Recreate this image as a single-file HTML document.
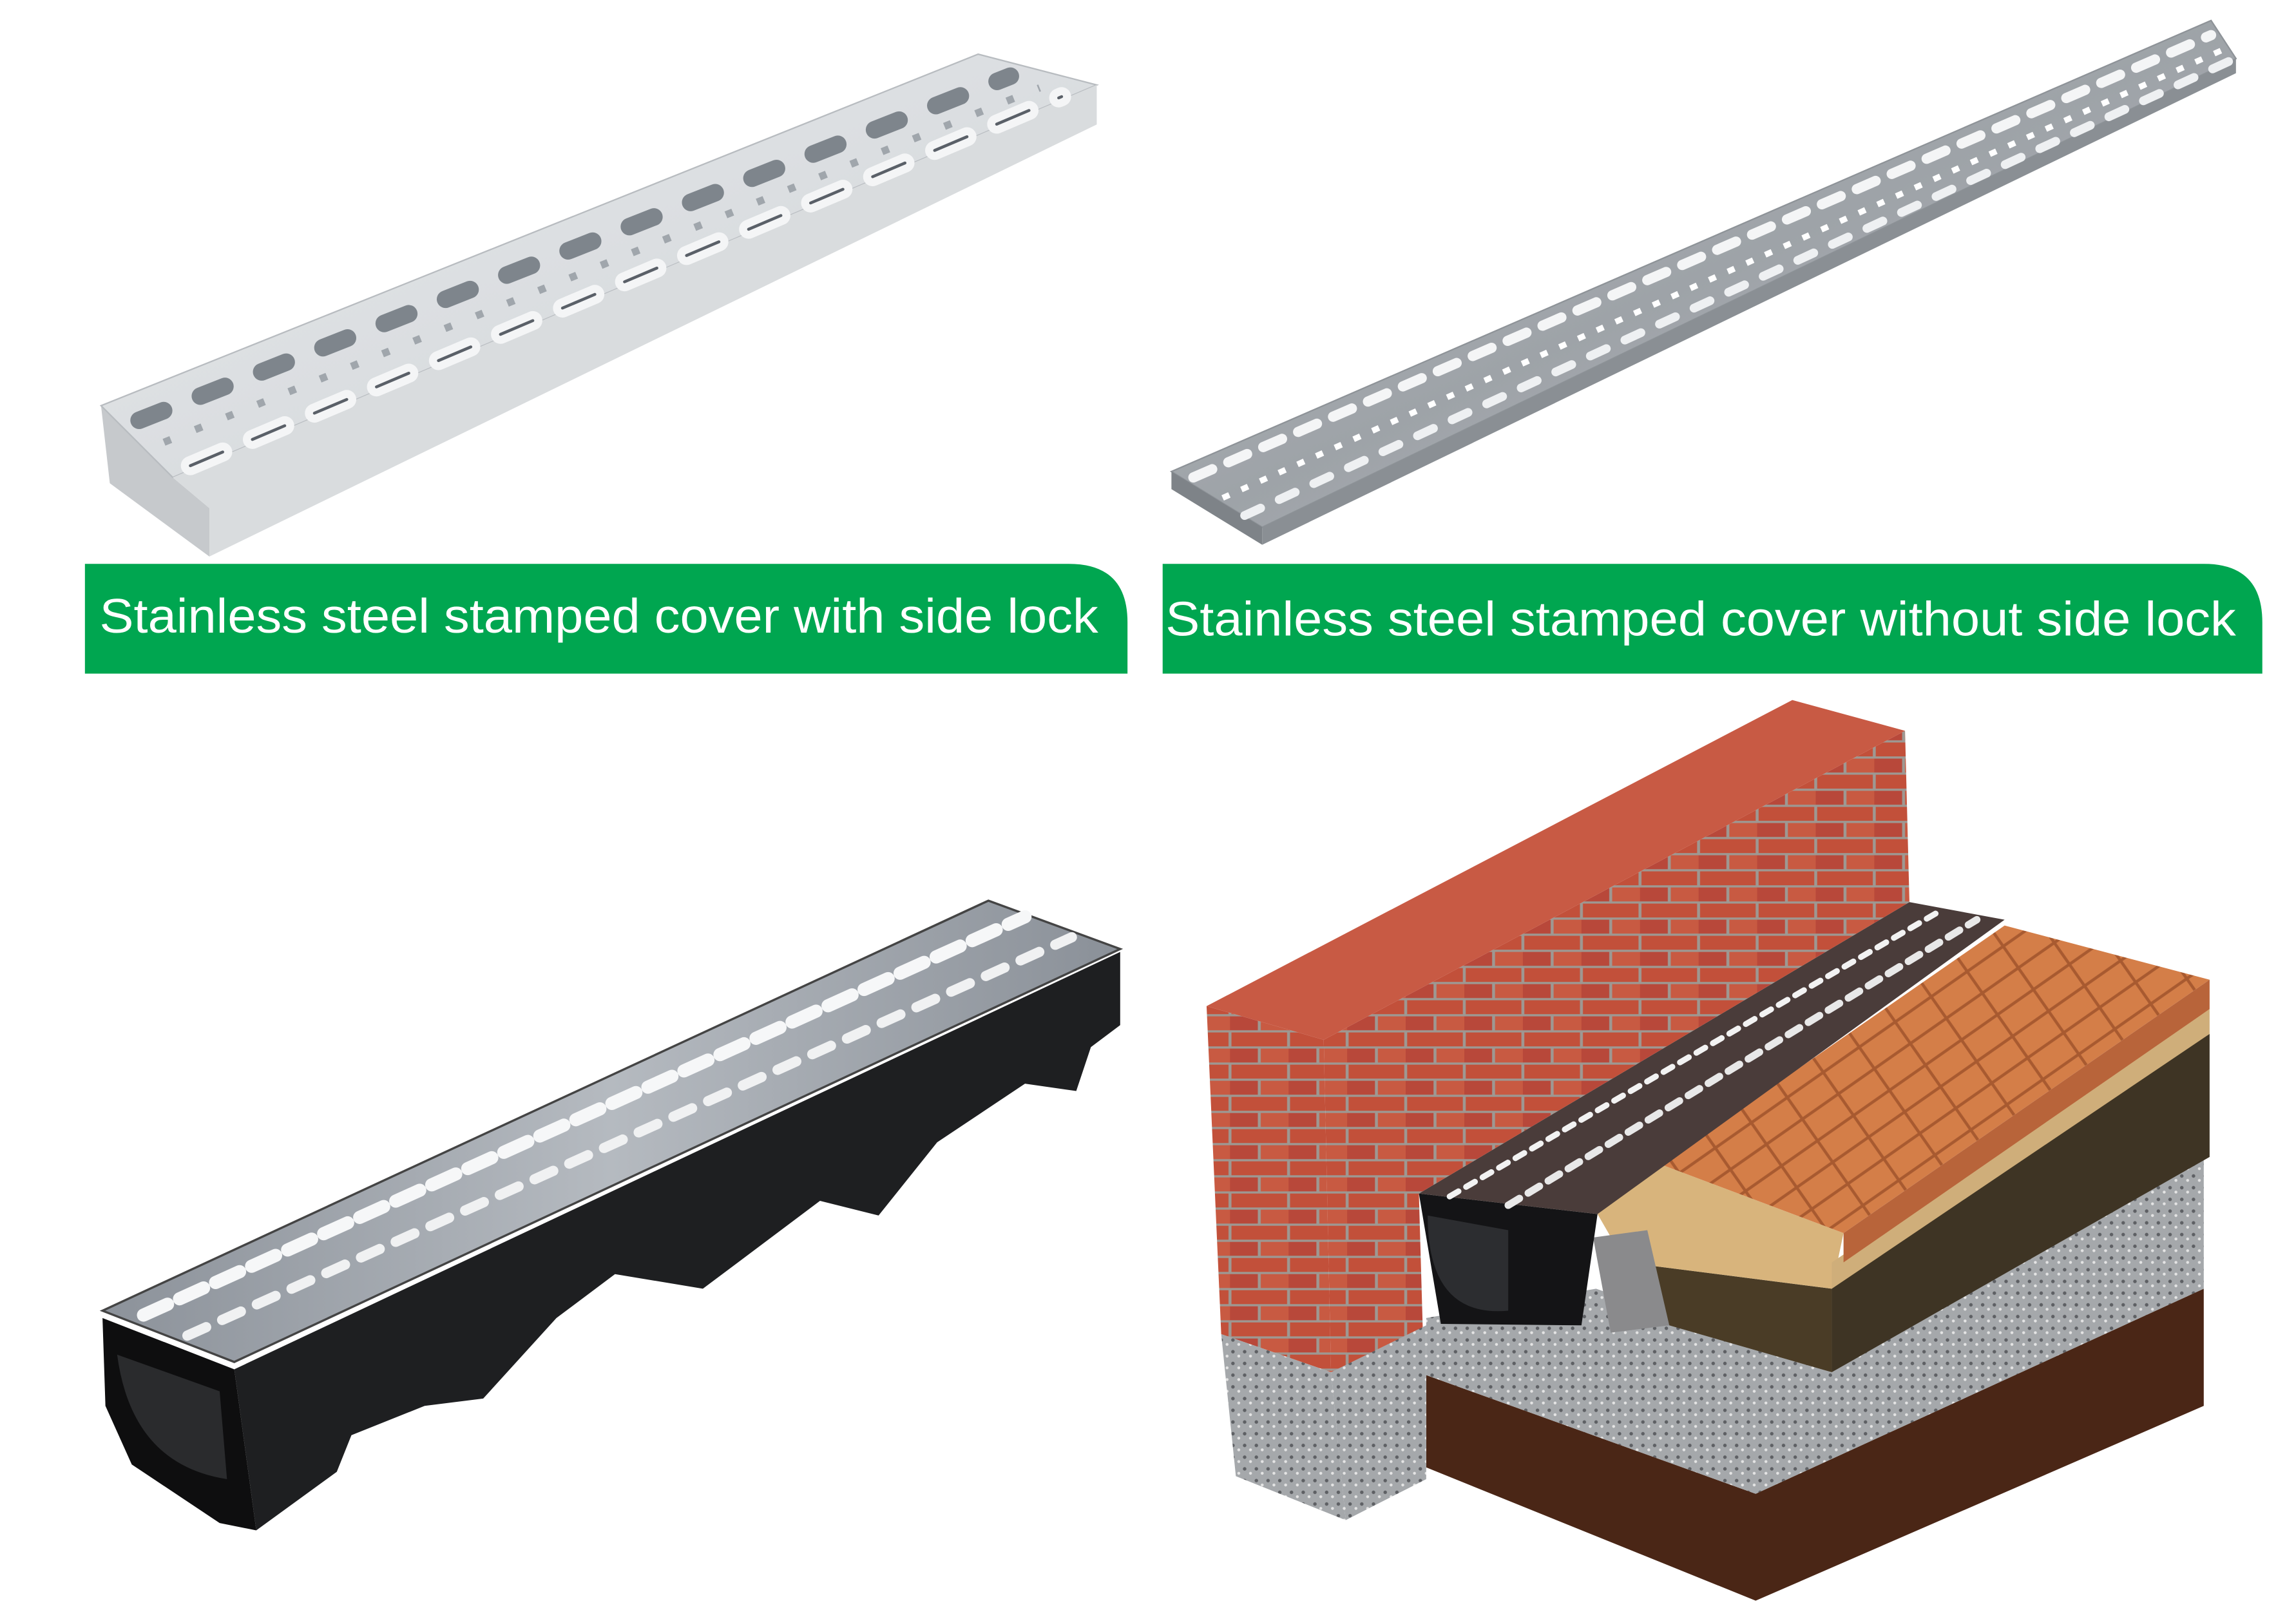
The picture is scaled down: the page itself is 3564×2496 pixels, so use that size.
<!DOCTYPE html>
<html><head><meta charset="utf-8"><style>
html,body{margin:0;padding:0;background:#fff;}
svg{display:block;width:3564px;height:2496px;}
</style></head><body>
<svg viewBox="0 0 1568 1098" preserveAspectRatio="none" xmlns="http://www.w3.org/2000/svg">
<defs>
<linearGradient id="steel" x1="0" y1="0" x2="1" y2="1"><stop offset="0" stop-color="#e6e8ea"/><stop offset="1" stop-color="#d0d4d8"/></linearGradient>
<linearGradient id="steel2" x1="0" y1="0" x2="1" y2="1"><stop offset="0" stop-color="#b8bcc0"/><stop offset="0.5" stop-color="#9ea3a8"/><stop offset="1" stop-color="#b4b8bc"/></linearGradient>
<linearGradient id="steel3" x1="0" y1="0" x2="1" y2="0"><stop offset="0" stop-color="#8c929a"/><stop offset="0.5" stop-color="#b5bac0"/><stop offset="1" stop-color="#8a9098"/></linearGradient>
<pattern id="brick" width="40" height="22" patternUnits="userSpaceOnUse"><rect width="40" height="22" fill="#9e9892"/><rect x="1" y="1" width="38" height="9.5" fill="#c2503a"/><rect x="-19" y="12" width="38" height="9.5" fill="#b8483a"/><rect x="21" y="12" width="38" height="9.5" fill="#c85a42"/></pattern>
<pattern id="pave" width="30" height="18" patternUnits="userSpaceOnUse" patternTransform="rotate(-35)"><rect width="30" height="18" fill="#a85a30"/><rect x="1" y="1" width="28" height="16" fill="#d47e48"/></pattern>
<pattern id="conc" width="8" height="8" patternUnits="userSpaceOnUse"><rect width="8" height="8" fill="#a5a8ab"/><circle cx="2" cy="3" r="1.2" fill="#5e6064"/><circle cx="6" cy="6" r="1" fill="#e4e4e4"/></pattern>
</defs>
<rect width="1568" height="1098" fill="#fff"/>

<!-- Top-left grate with side lock -->
<polygon points="69,277 118,326 143,347 143,380 75,330" fill="#c6c9cc"/>
<polygon points="69,277 668,37 749,58 118,326" fill="url(#steel)" stroke="#b8bcc0" stroke-width="1"/>
<polygon points="118,326 749,58 749,85 143,380 143,347" fill="#d9dcde"/>
<line x1="95" y1="287" x2="690" y2="52" stroke="#7e858c" stroke-width="12" stroke-dasharray="18,27" stroke-linecap="round"/>
<line x1="130" y1="318" x2="725" y2="66" stroke="#f4f5f6" stroke-width="13" stroke-dasharray="24,22" stroke-linecap="round"/>
<line x1="130" y1="318" x2="725" y2="66" stroke="#5a6068" stroke-width="2" stroke-dasharray="24,22" stroke-linecap="round"/>
<line x1="112" y1="302" x2="710" y2="60" stroke="#a0a6ac" stroke-width="5" stroke-dasharray="5,18"/>

<!-- Top-right grate without side lock -->
<polygon points="800,322 1510,14 1527,40 862,360" fill="url(#steel2)" stroke="#8e9398" stroke-width="1"/>
<polygon points="800,322 862,360 862,372 800,334" fill="#7e8388"/>
<polygon points="862,360 1527,40 1527,50 862,372" fill="#8a8f94"/>
<line x1="815" y1="326" x2="1510" y2="24" stroke="#f4f5f6" stroke-width="7" stroke-dasharray="14,12" stroke-linecap="round"/>
<line x1="835" y1="340" x2="1518" y2="34" stroke="#ffffff" stroke-width="4" stroke-dasharray="5,9"/>
<line x1="850" y1="352" x2="1522" y2="42" stroke="#eef0f2" stroke-width="6" stroke-dasharray="12,14" stroke-linecap="round"/>

<!-- Banners -->
<path d="M58,385 H730 Q770,385 770,425 V460 H58 Z" fill="#00a650"/>
<path d="M794,385 H1505 Q1545,385 1545,425 V460 H794 Z" fill="#00a650"/>
<text x="68" y="432" font-family="Liberation Sans, sans-serif" font-size="33" fill="#fff" textLength="682" lengthAdjust="spacingAndGlyphs">Stainless steel stamped cover with side lock</text>
<text x="796" y="434" font-family="Liberation Sans, sans-serif" font-size="33" fill="#fff" textLength="731" lengthAdjust="spacingAndGlyphs">Stainless steel stamped cover without side lock</text>

<!-- Bottom-left channel -->
<polygon points="160,935 765,650 765,700 745,715 735,745 700,740 640,780 600,830 560,820 520,850 480,880 420,870 380,900 330,955 290,960 240,980 230,1005 175,1045" fill="#1e1f21"/>
<polygon points="70,900 160,935 175,1045 150,1040 90,1000 72,960" fill="#0e0e0f"/>
<path d="M80,925 Q90,1000 155,1010 L150,950 Z" fill="#2a2b2d"/>
<polygon points="70,895 675,615 765,648 160,930" fill="url(#steel3)" stroke="#444" stroke-width="1.5"/>
<line x1="98" y1="898" x2="700" y2="626" stroke="#f6f7f8" stroke-width="9" stroke-dasharray="18,9" stroke-linecap="round"/>
<line x1="128" y1="912" x2="732" y2="640" stroke="#f0f1f2" stroke-width="7" stroke-dasharray="14,12" stroke-linecap="round"/>

<!-- Bottom-right cross-section -->
<!-- brown earth -->
<polygon points="974,939 1199,1020 1505,880 1505,960 1199,1093 974,1002" fill="#4a2616"/>
<!-- concrete slab -->
<polygon points="974,900 1090,880 1251,937 1505,790 1505,880 1199,1020 974,939" fill="url(#conc)"/>
<!-- dark soil right side -->
<polygon points="1251,868 1509,706 1509,790 1251,937" fill="#3e3424"/>
<!-- soil front -->
<polygon points="1110,862 1251,880 1251,937 1140,905" fill="#4a3c26"/>
<!-- sand -->
<polygon points="1091,829 1134,795 1259,842 1251,880 1110,862" fill="#d8b47c"/>
<polygon points="1251,862 1509,689 1509,706 1251,880" fill="#cfae7a"/>
<!-- paving -->
<polygon points="1134,795 1369,632 1509,669 1259,842" fill="url(#pave)"/>
<polygon points="1259,842 1509,669 1509,689 1259,862" fill="#b8643a"/>
<!-- concrete block -->
<polygon points="1088,845 1125,840 1140,905 1100,910" fill="#8a8a8c"/>
<!-- channel & grate -->
<polygon points="969,815 1091,829 1080,905 984,904" fill="#141416"/>
<path d="M975,830 Q975,900 1030,895 L1030,840 Z" fill="#2c2d30"/>
<polygon points="969,815 1304,616 1369,628 1091,829" fill="#4a3c3a"/>
<line x1="990" y1="817" x2="1325" y2="622" stroke="#f2f2f2" stroke-width="4" stroke-dasharray="7,6" stroke-linecap="round"/>
<line x1="1030" y1="823" x2="1350" y2="628" stroke="#e8e8e8" stroke-width="5" stroke-dasharray="9,7" stroke-linecap="round"/>
<!-- wall -->
<polygon points="904,710 1301,499 1304,616 969,815 972,920 909,937" fill="url(#brick)"/>
<polygon points="824,687 904,710 909,937 834,911" fill="url(#brick)"/>
<polygon points="824,687 1224,478 1301,499 904,710" fill="#c85a44"/>
<!-- wall foot -->
<polygon points="834,911 909,937 919,1038 844,1008" fill="url(#conc)"/>
<polygon points="909,937 974,905 974,1010 919,1038" fill="url(#conc)"/>
</svg>
</body></html>
